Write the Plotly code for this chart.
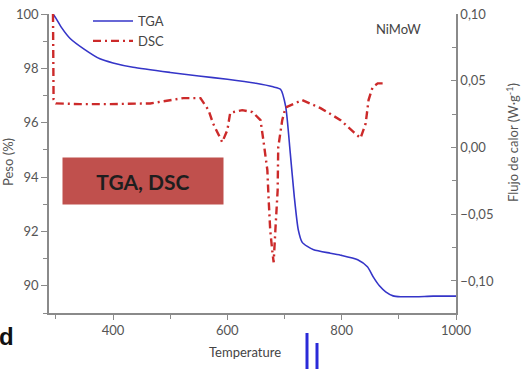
import plotly.graph_objects as go

# ---- data ----
tga_temp = [295, 300, 310, 325, 350, 377, 400, 435, 500, 550, 600, 650, 680, 693, 702, 710, 717, 724, 731, 740,
            751, 780, 800, 828, 845, 856, 866, 877, 890, 903, 930, 960, 1000]
tga_mass = [100.0, 99.85, 99.5, 99.1, 98.7, 98.35, 98.2, 98.04, 97.85, 97.72, 97.6, 97.45, 97.32, 97.23, 96.6, 94.9,
            93.3, 92.07, 91.6, 91.45, 91.33, 91.2, 91.12, 90.96, 90.7, 90.3, 90.0, 89.78, 89.63, 89.6, 89.6, 89.62, 89.62]

dsc_temp = [295, 296, 300, 342, 395, 465, 523, 553, 567, 575, 591, 600, 605, 626, 644, 658, 663, 670, 672, 675,
            679, 681, 684, 688, 689, 696, 702, 731, 763, 798, 821, 833, 842, 847, 854, 863, 872]
dsc_flow = [0.100, 0.036, 0.033, 0.0325, 0.0325, 0.033, 0.037, 0.037, 0.028, 0.018, 0.004, 0.013, 0.026, 0.028,
            0.0265, 0.0205, 0.0055, -0.017, -0.037, -0.062, -0.079, -0.086, -0.062, -0.032, 0.0, 0.0205, 0.030,
            0.0355, 0.0295, 0.0205, 0.0115, 0.007, 0.018, 0.0355, 0.045, 0.048, 0.048]

left_ticks = [90, 92, 94, 96, 98, 100]
right_ticks = [-0.10, -0.05, 0.00, 0.05, 0.10]
x_ticks = [400, 600, 800, 1000]

# ---- layout geometry ----
W, H = 523, 369
L, R, T, B = 49, 67, 14, 56
PW, PH = W - L - R, H - T - B

def px(x):
    return (x - L) / PW

def py(y):
    return (H - B - y) / PH

FONT = "Lato"
GRAY = "#555555"
AXC = "#8a8a8a"

fig = go.Figure()
fig.add_trace(go.Scatter(x=tga_temp, y=tga_mass, mode="lines", name="TGA",
                         line=dict(color="#3535c8", width=1.6, shape="spline", smoothing=0.6)))
fig.add_trace(go.Scatter(x=dsc_temp, y=dsc_flow, mode="lines", name="DSC", yaxis="y2",
                         line=dict(color="#cc2a2a", width=2.4, dash="8px,4px,2px,4px")))

fig.update_layout(
    width=W, height=H,
    margin=dict(l=L, r=R, t=T, b=B, pad=0, autoexpand=False),
    paper_bgcolor="white", plot_bgcolor="white",
    separators=",.",
    font=dict(family=FONT, size=13, color=GRAY),
    showlegend=True,
    legend=dict(x=px(88), y=py(6), xanchor="left", yanchor="top",
                bgcolor="rgba(0,0,0,0)", font=dict(size=13, color="#444444"),
                tracegroupgap=0, itemwidth=40),
    xaxis=dict(range=[288, 1000], tickvals=x_ticks, ticks="outside", ticklen=5, tickcolor=AXC,
               showline=True, linecolor=AXC, linewidth=1.5, showgrid=False, zeroline=False,
               minor=dict(tickvals=[300, 500, 700, 900], ticks="outside", ticklen=4, tickcolor=AXC),
               tickfont=dict(size=13, color=GRAY)),
    yaxis=dict(range=[89, 100], tickvals=left_ticks, ticks="outside", ticklen=6, tickcolor=AXC,
               showline=True, linecolor=AXC, linewidth=1.5, showgrid=False, zeroline=False,
               minor=dict(dtick=1, ticks="outside", ticklen=4, tickcolor=AXC),
               tickfont=dict(size=13, color=GRAY)),
    yaxis2=dict(range=[-0.124, 0.10], tickvals=right_ticks, tickformat=".2f", overlaying="y", side="right",
                ticks="inside", ticklen=5, tickcolor=AXC,
                showline=True, linecolor=AXC, linewidth=1.5, showgrid=False, zeroline=False,
                minor=dict(dtick=0.025, ticks="inside", ticklen=4, tickcolor=AXC),
                tickfont=dict(size=13, color=GRAY)),
)

annotations = [
    dict(text="Peso (%)", x=px(8), y=py(162), xref="paper", yref="paper", showarrow=False,
         textangle=-90, font=dict(size=13, color=GRAY), xanchor="center", yanchor="middle"),
    dict(text="Flujo de calor (W·g<sup>-1</sup>)", x=px(512), y=py(143), xref="paper", yref="paper",
         showarrow=False, textangle=-90, font=dict(size=13, color=GRAY), xanchor="center", yanchor="middle"),
    dict(text="Temperature", x=px(245), y=py(352), xref="paper", yref="paper", showarrow=False,
         font=dict(size=13, color="#444444"), xanchor="center", yanchor="middle"),
    dict(text="NiMoW", x=px(398), y=py(29), xref="paper", yref="paper", showarrow=False,
         font=dict(size=13, color="#444444"), xanchor="center", yanchor="middle"),
    dict(text="<b>TGA, DSC</b>", x=px(62), y=py(157), xref="paper", yref="paper", showarrow=False,
         xanchor="left", yanchor="top", width=160, height=46, borderpad=0, bgcolor="#c0504d",
         font=dict(size=21, color="#1e1e1e", family=FONT)),
    dict(text="<b>d</b>", x=px(16), y=py(336), xref="paper", yref="paper", showarrow=False,
         xanchor="right", yanchor="middle", font=dict(size=24, color="#111111", family="Liberation Sans")),
]
fig.update_layout(annotations=annotations)

fig.add_shape(type="line", xref="paper", yref="paper", x0=px(307), x1=px(307), y0=py(333), y1=py(372),
              line=dict(color="#2a2ad8", width=3))
fig.add_shape(type="line", xref="paper", yref="paper", x0=px(317), x1=px(317), y0=py(343), y1=py(372),
              line=dict(color="#2a2ad8", width=3))

fig.write_html("out.html", config={"displayModeBar": False},
               post_script="document.body.style.margin='0';document.body.style.overflow='hidden';")
